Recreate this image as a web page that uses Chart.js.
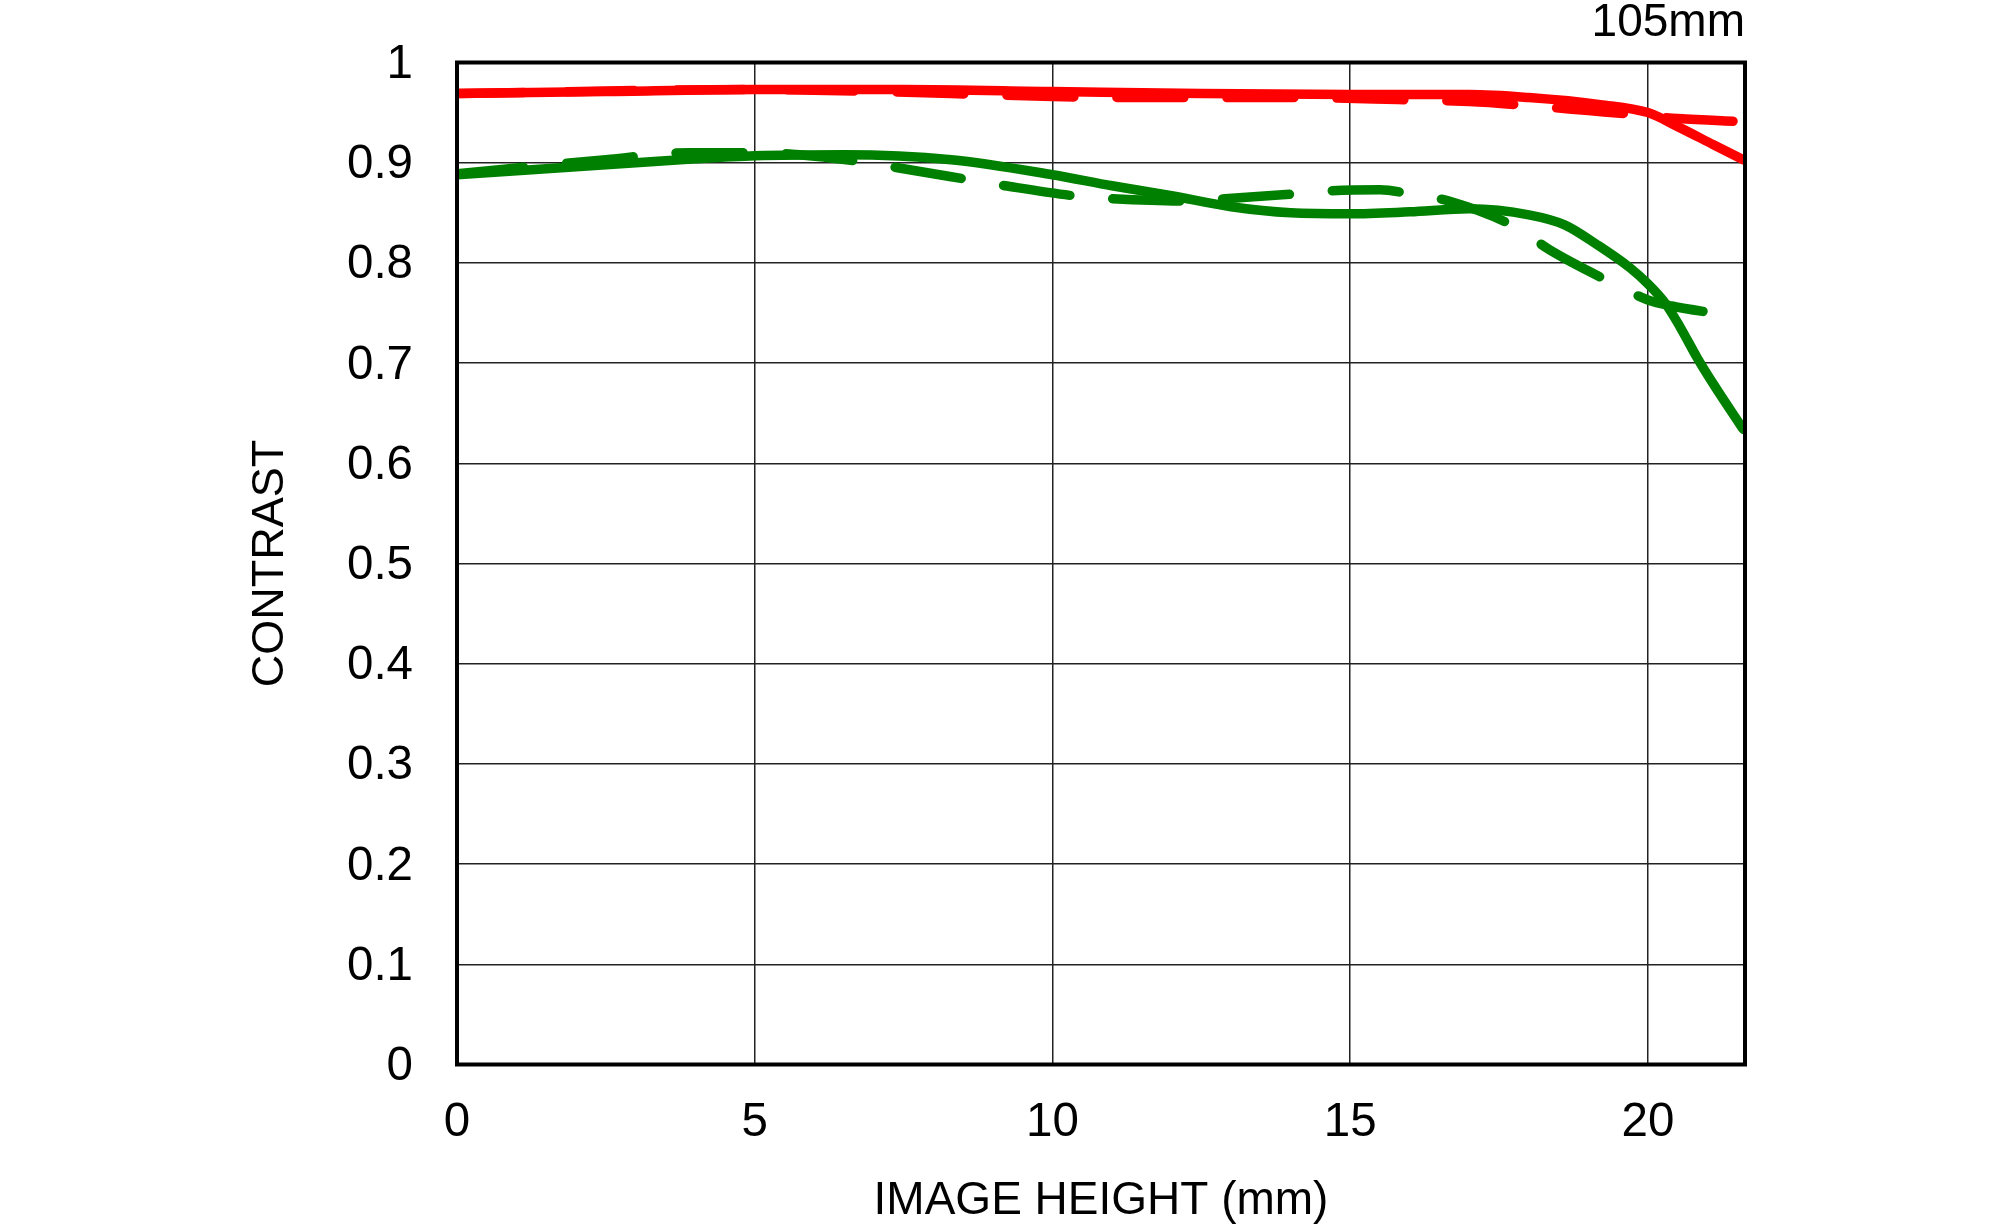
<!DOCTYPE html>
<html>
<head>
<meta charset="utf-8">
<script src="https://cdn.jsdelivr.net/npm/chart.js@4/dist/chart.umd.min.js"></script>
<style>
  html, body { margin: 0; padding: 0; background: #ffffff; overflow: hidden; }
  #wrap { width: 2000px; height: 1228px; }
  canvas { display: block; }
</style>
</head>
<body>
<div id="wrap"><canvas id="c" width="2000" height="1228"></canvas></div>
<script>
// ---- data ----
const redSolidX   = [0, 2.5, 5, 7.5, 10, 12.5, 15, 17, 18, 19.2, 20, 20.5, 21.1, 21.6];
const redSolidY   = [0.969, 0.971, 0.973, 0.973, 0.971, 0.969, 0.968, 0.968, 0.965, 0.958, 0.950, 0.936, 0.918, 0.903];

const redDashX    = [0, 5, 8.3, 10, 12, 14, 15.8, 17, 18, 19, 19.8, 20.5, 21.6];
const redDashY    = [0.969, 0.973, 0.969, 0.966, 0.965, 0.965, 0.963, 0.961, 0.957, 0.952, 0.948, 0.944, 0.941];

const greenSolidX = [0, 1, 2.5, 4, 5, 6.5, 8.3, 10, 11, 12, 13, 14, 15, 16, 17, 18, 18.6, 19.15, 19.7, 20, 20.3, 20.55, 20.83, 21.1, 21.6];
const greenSolidY = [0.888, 0.892, 0.898, 0.904, 0.907, 0.908, 0.903, 0.888, 0.877, 0.867, 0.856, 0.850, 0.849, 0.851, 0.854, 0.848, 0.838, 0.818, 0.795, 0.779, 0.759, 0.735, 0.705, 0.679, 0.634];

const greenDashX  = [0, 2.5, 3.9, 5, 6.8, 7.4, 8.3, 9.2, 10.5, 11, 12.3, 12.9, 14.1, 14.7, 15.5, 16, 16.7, 17.8, 18.35, 19.4, 20, 20.4, 21.2];
const greenDashY  = [0.889, 0.903, 0.910, 0.910, 0.901, 0.895, 0.886, 0.877, 0.866, 0.864, 0.8616, 0.864, 0.869, 0.872, 0.873, 0.869, 0.861, 0.835, 0.813, 0.780, 0.763, 0.757, 0.749];

const xTickValues = [0, 5, 10, 15, 20];
const xTickLabels = ['0', '5', '10', '15', '20'];
const yTickValues = [0, 0.1, 0.2, 0.3, 0.4, 0.5, 0.6, 0.7, 0.8, 0.9, 1];
const yTickLabels = ['0', '0.1', '0.2', '0.3', '0.4', '0.5', '0.6', '0.7', '0.8', '0.9', '1'];

const titleText = '105mm';
const xTitle = 'IMAGE HEIGHT (mm)';
const yTitle = 'CONTRAST';

function pts(xs, ys) { return xs.map((x, i) => ({ x: x, y: ys[i] })); }

const FONT = "'Liberation Sans', Arial, sans-serif";
const RED = '#ff0000';
const GREEN = '#008000';
const LW = 9.5;
const DASH = [67, 43];

const framePlugin = {
  id: 'frame',
  afterDatasetsDraw(chart) {
    const a = chart.chartArea;
    const ctx = chart.ctx;
    ctx.save();
    ctx.strokeStyle = '#000';
    ctx.lineWidth = 4;
    ctx.strokeRect(a.left, a.top, a.right - a.left, a.bottom - a.top);
    ctx.restore();
  }
};

new Chart(document.getElementById('c'), {
  type: 'line',
  data: {
    datasets: [
      { data: pts(redSolidX, redSolidY), borderColor: RED, borderWidth: LW },
      { data: pts(redDashX, redDashY), borderColor: RED, borderWidth: LW, borderDash: DASH },
      { data: pts(greenSolidX, greenSolidY), borderColor: GREEN, borderWidth: LW },
      { data: pts(greenDashX, greenDashY), borderColor: GREEN, borderWidth: LW, borderDash: DASH }
    ]
  },
  options: {
    responsive: false,
    maintainAspectRatio: false,
    animation: false,
    devicePixelRatio: 1,
    datasets: {
      line: {
        pointRadius: 0,
        fill: false,
        cubicInterpolationMode: 'monotone',
        borderCapStyle: 'round',
        borderJoinStyle: 'round'
      }
    },
    layout: { padding: { left: 0, right: 255, top: 0, bottom: 0 } },
    plugins: {
      legend: { display: false },
      tooltip: { enabled: false },
      title: {
        display: true,
        text: titleText,
        align: 'end',
        color: '#000',
        font: { family: FONT, size: 46, weight: 'normal', lineHeight: 0.8 },
        padding: { top: 4.5, bottom: 21.2 }
      }
    },
    scales: {
      x: {
        type: 'linear',
        min: 0,
        max: 21.63,
        afterBuildTicks(s) { s.ticks = xTickValues.map(v => ({ value: v })); },
        afterFit(s) { s.height = 163.5; },
        grid: { color: '#222', lineWidth: 1.5, drawTicks: false },
        border: { display: false },
        ticks: {
          color: '#000',
          padding: 30,
          maxRotation: 0,
          font: { family: FONT, size: 47.5 },
          callback: (v, i) => xTickLabels[i]
        },
        title: {
          display: true,
          text: xTitle,
          color: '#000',
          font: { family: FONT, size: 46, lineHeight: 1 },
          padding: { top: 0, bottom: 3.3 }
        }
      },
      y: {
        type: 'linear',
        min: 0,
        max: 1,
        afterBuildTicks(s) { s.ticks = yTickValues.map(v => ({ value: v })); },
        afterFit(s) { s.width = 457; },
        grid: { color: '#222', lineWidth: 1.5, drawTicks: true, tickLength: 44, tickColor: 'rgba(0,0,0,0)' },
        border: { display: false },
        ticks: {
          color: '#000',
          padding: 0,
          labelOffset: 2.5,
          font: { family: FONT, size: 47.5 },
          callback: (v, i) => yTickLabels[i]
        },
        title: {
          display: true,
          text: yTitle,
          color: '#000',
          font: { family: FONT, size: 45, lineHeight: 1.2 },
          padding: { top: 244, bottom: 0 }
        }
      }
    }
  },
  plugins: [framePlugin]
});
</script>
</body>
</html>
